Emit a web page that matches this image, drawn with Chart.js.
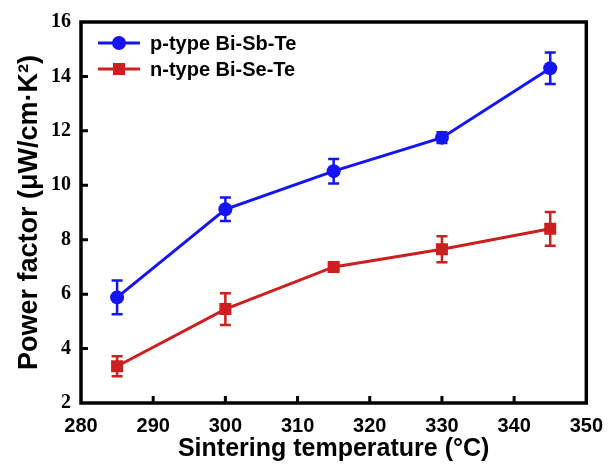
<!DOCTYPE html>
<html>
<head>
<meta charset="utf-8">
<script src="https://cdn.jsdelivr.net/npm/chart.js@4"></script>
<style>
  html, body { margin: 0; padding: 0; background: #fff; }
  #wrap { width: 614px; height: 466px; }
</style>
</head>
<body>
<div id="wrap"><canvas id="myChart" width="614" height="466"></canvas></div>
<script>
// data
const temps = [285, 300, 315, 330, 345];
const pType = [5.88, 9.12, 10.52, 11.75, 14.3];
const pErr = [0.62, 0.43, 0.45, 0.2, 0.58];
const nType = [3.35, 5.45, 7.0, 7.65, 8.4];
const nErr = [0.37, 0.58, 0.1, 0.48, 0.62];
const xTicks = [280, 290, 300, 310, 320, 330, 340, 350];
const yTicks = [2, 4, 6, 8, 10, 12, 14, 16];

const blue = '#1414f5';
const red = '#cc1f1f';

// error bars, frame, inward ticks and legend
const extras = {
  id: 'extras',
  afterDatasetsDraw(chart) {
    const ctx = chart.ctx;
    const xs = chart.scales.x, ys = chart.scales.y;
    const sets = [[pType, pErr, blue], [nType, nErr, red]];
    ctx.save();
    sets.forEach(([vals, errs, col]) => {
      ctx.strokeStyle = col;
      ctx.lineWidth = 2.5;
      vals.forEach((v, i) => {
        const x = xs.getPixelForValue(temps[i]);
        const y1 = ys.getPixelForValue(v + errs[i]);
        const y2 = ys.getPixelForValue(v - errs[i]);
        ctx.beginPath();
        ctx.moveTo(x, y1); ctx.lineTo(x, y2);
        ctx.moveTo(x - 5.5, y1); ctx.lineTo(x + 5.5, y1);
        ctx.moveTo(x - 5.5, y2); ctx.lineTo(x + 5.5, y2);
        ctx.stroke();
      });
    });
    ctx.restore();
  },
  afterDraw(chart) {
    const ctx = chart.ctx;
    const a = chart.chartArea;
    const xs = chart.scales.x, ys = chart.scales.y;
    ctx.save();
    ctx.strokeStyle = '#000';
    ctx.lineWidth = 3.5;
    ctx.strokeRect(a.left, a.top, a.right - a.left, a.bottom - a.top);
    ctx.lineWidth = 3;
    ctx.beginPath();
    xTicks.slice(1, -1).forEach(t => {
      const x = xs.getPixelForValue(t);
      ctx.moveTo(x, a.bottom); ctx.lineTo(x, a.bottom - 7);
    });
    yTicks.slice(1, -1).forEach(t => {
      const y = ys.getPixelForValue(t);
      ctx.moveTo(a.left, y); ctx.lineTo(a.left + 7, y);
    });
    ctx.stroke();

    // legend
    const items = [['p-type Bi-Sb-Te', blue, 'circle', 43], ['n-type Bi-Se-Te', red, 'rect', 69]];
    items.forEach(([label, col, shape, y]) => {
      ctx.strokeStyle = col;
      ctx.fillStyle = col;
      ctx.lineWidth = 3;
      ctx.beginPath();
      ctx.moveTo(98, y); ctx.lineTo(140, y);
      ctx.stroke();
      if (shape === 'circle') {
        ctx.beginPath();
        ctx.arc(119, y, 7, 0, Math.PI * 2);
        ctx.fill();
      } else {
        ctx.fillRect(113, y - 6, 12, 12);
      }
      ctx.fillStyle = '#000';
      ctx.font = 'bold 20px "Liberation Sans", Arial, sans-serif';
      ctx.textBaseline = 'middle';
      ctx.fillText(label, 150, y + 1);
    });
    ctx.restore();
  }
};

new Chart('myChart', {
  type: 'line',
  data: {
    datasets: [{
      label: 'p-type Bi-Sb-Te',
      data: temps.map((t, i) => ({x: t, y: pType[i]})),
      borderColor: blue,
      backgroundColor: blue,
      borderWidth: 3,
      pointStyle: 'circle',
      pointRadius: 7,
      pointBorderWidth: 0
    }, {
      label: 'n-type Bi-Se-Te',
      data: temps.map((t, i) => ({x: t, y: nType[i]})),
      borderColor: red,
      backgroundColor: red,
      borderWidth: 3,
      pointStyle: 'rect',
      pointRadius: 8.5,
      pointBorderWidth: 0
    }]
  },
  options: {
    responsive: false,
    animation: false,
    layout: {padding: {top: 15, right: 20, left: 0, bottom: 0}},
    plugins: {
      legend: {display: false},
      tooltip: {enabled: false}
    },
    scales: {
      x: {
        type: 'linear',
        min: 280, max: 350,
        afterFit(s) { s.height = 63; },
        afterBuildTicks(s) { s.ticks = xTicks.map(v => ({value: v})); },
        grid: {display: false, drawTicks: false},
        border: {display: false},
        ticks: {
          color: '#000',
          padding: 11,
          maxRotation: 0,
          font: {family: '"Liberation Sans", Arial, sans-serif', size: 20, weight: 'bold'}
        },
        title: {
          display: true,
          text: 'Sintering temperature (\u00B0C)',
          color: '#000',
          padding: {top: 0, bottom: 2},
          font: {family: '"Liberation Sans", Arial, sans-serif', size: 25, weight: 'bold'}
        }
      },
      y: {
        min: 2, max: 16,
        afterFit(s) { s.width = 81; },
        afterBuildTicks(s) { s.ticks = yTicks.map(v => ({value: v})); },
        grid: {display: false, drawTicks: false},
        border: {display: false},
        ticks: {
          color: '#000',
          padding: 10,
          font: {family: '"Liberation Serif", "Times New Roman", serif', size: 20, weight: 'bold'}
        },
        title: {
          display: true,
          text: 'Power factor (\u03BCW/cm\u00B7K\u00B2)',
          color: '#000',
          padding: {top: 13, bottom: 0},
          font: {family: '"Liberation Sans", Arial, sans-serif', size: 27, weight: 'bold'}
        }
      }
    }
  },
  plugins: [extras]
});
</script>
</body>
</html>
